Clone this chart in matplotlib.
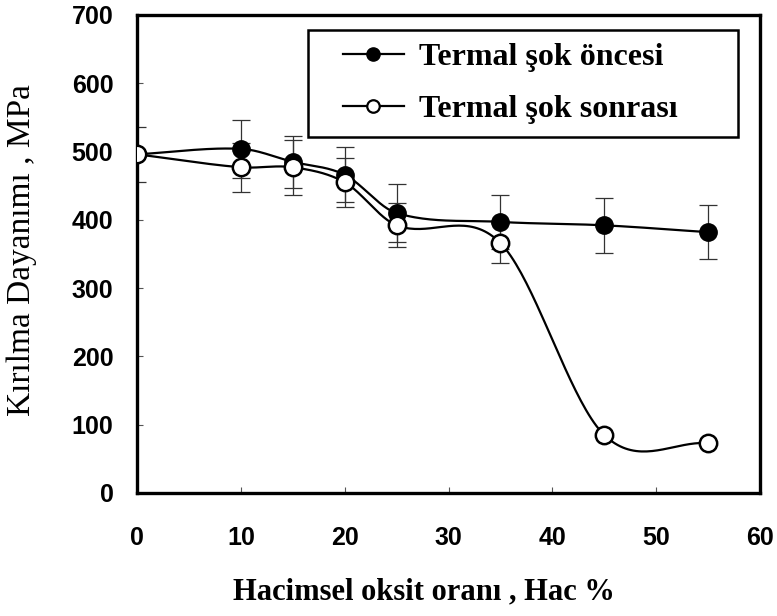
import numpy as np
import matplotlib
matplotlib.use("Agg")
import matplotlib.pyplot as plt
from matplotlib.lines import Line2D
from matplotlib.patches import Rectangle

# Oxide volume fraction (%) and fracture strength (MPa)
oxide_pct = [0, 10, 15, 20, 25, 35, 45, 55]
strength_before = [496, 504, 485, 466, 410, 397, 392, 382]
err_before = [40, 42, 38, 40, 42, 40, 40, 40]
strength_after = [496, 477, 477, 455, 392, 366, 85, 73]
err_after = [0, 36, 40, 36, 32, 29, 0, 0]

label_before = "Termal şok öncesi"
label_after = "Termal şok sonrası"
xlabel = "Hacimsel oksit oranı , Hac %"
ylabel = "Kırılma Dayanımı , MPa"
xticks = [0, 10, 20, 30, 40, 50, 60]
yticks = [0, 100, 200, 300, 400, 500, 600, 700]


def smooth_curve(x, y, n=40):
    """Catmull-Rom style cubic Hermite curve through the given points."""
    x = np.asarray(x, float)
    y = np.asarray(y, float)
    m = np.zeros_like(y)
    m[1:-1] = (y[2:] - y[:-2]) / (x[2:] - x[:-2])
    m[0] = (y[1] - y[0]) / (x[1] - x[0])
    m[-1] = (y[-1] - y[-2]) / (x[-1] - x[-2])
    xs, ys = [], []
    for i in range(len(x) - 1):
        h = x[i + 1] - x[i]
        t = np.linspace(0, 1, n, endpoint=(i == len(x) - 2))
        h00 = 2 * t**3 - 3 * t**2 + 1
        h10 = t**3 - 2 * t**2 + t
        h01 = -2 * t**3 + 3 * t**2
        h11 = t**3 - t**2
        xs.append(x[i] + t * h)
        ys.append(h00 * y[i] + h10 * h * m[i] + h01 * y[i + 1] + h11 * h * m[i + 1])
    return np.concatenate(xs), np.concatenate(ys)


fig = plt.figure(figsize=(7.77, 6.16), dpi=100)
ax = fig.add_axes([137 / 777, 1 - 493 / 616, 623 / 777, 478 / 616])

serif = ["Liberation Serif", "DejaVu Serif"]
sans = ["Liberation Sans", "DejaVu Sans"]

# connecting curves
for xs_, ys_ in (smooth_curve(oxide_pct, strength_before), smooth_curve(oxide_pct, strength_after)):
    ax.plot(xs_, ys_, color="black", lw=1.6, zorder=2)

# error bars
ax.errorbar(oxide_pct, strength_before, yerr=err_before, fmt="none",
            ecolor="#333333", elinewidth=0.9, capsize=6.5, capthick=0.9, zorder=1)
ax.errorbar(oxide_pct, strength_after, yerr=err_after, fmt="none",
            ecolor="#333333", elinewidth=0.9, capsize=6.5, capthick=0.9, zorder=1)

# markers
ax.plot(oxide_pct, strength_before, ls="none", marker="o", ms=12.5,
        mfc="black", mec="black", zorder=3)
ax.plot(oxide_pct, strength_after, ls="none", marker="o", ms=12.5,
        mfc="white", mec="black", mew=1.8, zorder=4)

ax.set_xlim(0, 60)
ax.set_ylim(0, 700)
ax.set_xticks(xticks)
ax.set_yticks(yticks)
ax.tick_params(direction="in", length=4, width=0.8, color="#555555")
ax.tick_params(axis="x", pad=24)
ax.tick_params(axis="y", pad=17)
for lbl in ax.get_xticklabels() + ax.get_yticklabels():
    lbl.set_fontfamily(sans)
    lbl.set_fontweight("bold")
    lbl.set_fontsize(18)

for sp in ax.spines.values():
    sp.set_linewidth(2.4)

ax.set_xlabel(xlabel, family=serif, fontweight="bold", fontsize=22, va="center")
ax.xaxis.set_label_coords(0.46, -0.207)
ax.set_ylabel(ylabel, family=serif, fontsize=24, va="center", ha="center")
ax.yaxis.set_label_coords(-0.1846, 0.508)

# legend entries, with a separately drawn frame
handles = [
    Line2D([], [], color="black", lw=1.6, marker="o", ms=9.5, mfc="black", mec="black"),
    Line2D([], [], color="black", lw=1.6, marker="o", ms=9, mfc="white", mec="black", mew=1.6),
]
leg = ax.legend(handles, [label_before, label_after], loc="upper left",
                bbox_to_anchor=(0.3307, 0.9414), frameon=False,
                prop={"family": serif, "weight": "bold", "size": 23},
                handlelength=1.9, handletextpad=0.47, labelspacing=0.7,
                borderpad=0.0, borderaxespad=0.0)
ax.add_patch(Rectangle((0.2745, 0.7448), 0.9647 - 0.2745, 0.9686 - 0.7448,
                       transform=ax.transAxes, fill=False, edgecolor="black",
                       lw=1.8, zorder=5))

fig.savefig("out.png", dpi=100)
